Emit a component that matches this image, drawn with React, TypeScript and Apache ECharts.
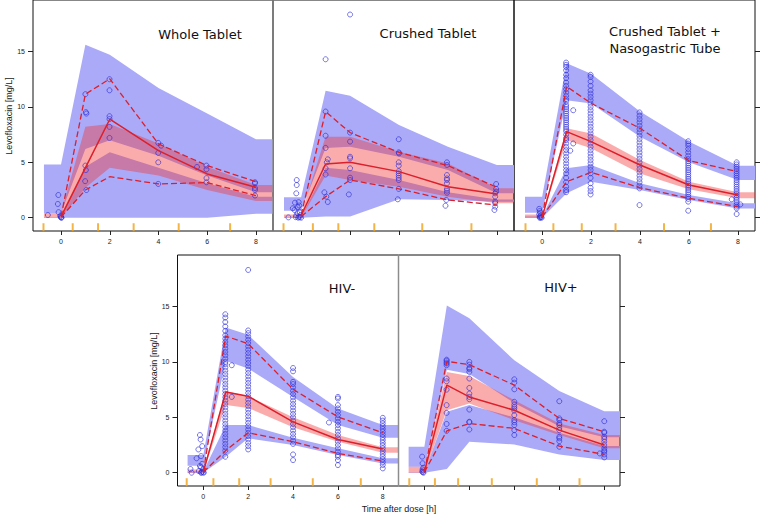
import React, { useEffect, useRef } from "react";
import * as echarts from "echarts";

// ---------------- data ----------------
const BIN_T = [0, 1, 2, 4, 6, 8];
const X_TICKS = [0, 2, 4, 6, 8];
const Y_TICKS = [0, 5, 10, 15];
const X_MIN = -1.15;
const X_MAX = 8.7;
const Y_MIN = -1.2;
const Y_MAX = 19.65;
const BAND_START = -0.7;
const RUG_Y = -0.86;

const TITLES = ["Whole Tablet", "Crushed Tablet", "Crushed Tablet +\nNasogastric Tube", "HIV-", "HIV+"];
const Y_NAME = "Levofloxacin [mg/L]";
const X_NAME = "Time after dose [h]";

// bin boundaries (orange rug)
const WT_BINS = [-0.72, 0.48, 1.52, 2.98, 4.83, 6.94];
const CT_BINS = [-0.72, 0.48, 1.52, 2.99, 4.95, 6.96];
const NG_BINS = [-0.68, 0.46, 1.62, 3.0, 4.98, 6.9];
const HN_BINS = [-0.74, 0.45, 1.6, 3.0, 4.88, 7.02];
const HP_BINS = [-0.67, 0.47, 1.5, 3.0, 5.0, 6.9];

// simulated CI bands at BIN_T
const WT_P5_LO = [0, 0, 0, 0, 0, 0.35];
const WT_P5_HI = [0.05, 4.6, 5.9, 4.5, 3.1, 1.9];
const WT_P50_LO = [0, 2.7, 4.5, 3.8, 2.5, 1.5];
const WT_P50_HI = [0.4, 8.2, 8.45, 6.7, 4.6, 2.95];
const WT_P95_LO = [0.4, 6.2, 7.0, 5.6, 3.8, 2.3];
const WT_P95_HI = [4.8, 15.6, 14.7, 11.7, 9.4, 7.08];

const CT_P5_LO = [0, 0.1, 0.1, 1.66, 1.6, 1.45];
const CT_P5_HI = [0.05, 4.5, 4.3, 3.4, 2.3, 1.65];
const CT_P50_LO = [0, 3.8, 3.4, 2.8, 1.9, 1.3];
const CT_P50_HI = [0.3, 7.3, 7.3, 5.96, 4.9, 2.65];
const CT_P95_LO = [0.63, 6.3, 6.4, 5.5, 4.3, 2.2];
const CT_P95_HI = [1.84, 11.45, 11.0, 8.37, 6.4, 4.76];

const NG_P5_LO = [0, 2.2, 3.25, 2.5, 1.6, 0.84];
const NG_P5_HI = [0.1, 4.46, 4.76, 3.1, 2.05, 1.3];
const NG_P50_LO = [0, 7.0, 6.27, 4.0, 2.56, 1.75];
const NG_P50_HI = [0.3, 8.07, 7.6, 5.2, 3.25, 2.29];
const NG_P95_LO = [0.45, 10.6, 10.3, 7.3, 5.0, 3.4];
const NG_P95_HI = [1.9, 13.95, 13.0, 9.58, 6.87, 4.7];

const HN_P5_LO = [0, 1.44, 3.1, 2.5, 1.6, 0.84];
const HN_P5_HI = [0.1, 4.3, 4.3, 3.15, 2.2, 1.3];
const HN_P50_LO = [0, 6.1, 5.85, 4.1, 2.8, 1.8];
const HN_P50_HI = [0.3, 7.38, 6.9, 5.0, 3.4, 2.3];
const HN_P95_LO = [0.63, 10.1, 9.4, 6.84, 4.3, 3.15];
const HN_P95_HI = [1.6, 13.1, 12.45, 8.64, 5.8, 4.3];

const HP_P5_LO = [0, 0.33, 2.8, 2.55, 1.65, 1.14];
const HP_P5_HI = [0.05, 5.5, 6.1, 5.0, 3.6, 2.4];
const HP_P50_LO = [0, 5.64, 6.24, 4.74, 3.4, 2.2];
const HP_P50_HI = [0.54, 9.1, 8.73, 6.54, 4.44, 3.4];
const HP_P95_LO = [0.54, 9.3, 8.9, 6.3, 4.2, 3.2];
const HP_P95_HI = [2.34, 15.1, 13.95, 10.14, 7.38, 5.55];

// observed percentiles at BIN_T
const WT_O5 = [0.05, 2.5, 3.7, 3.05, 3.17, 1.99];
const WT_O50 = [0.1, 4.5, 8.89, 6.05, 3.95, 2.75];
const WT_O95 = [0.1, 11.15, 12.53, 6.66, 4.7, 3.25];
const CT_O5 = [0.1, 1.9, 3.4, 2.6, 1.6, 1.14];
const CT_O50 = [0.2, 4.85, 5.0, 4.16, 2.8, 2.14];
const CT_O95 = [0.24, 9.58, 7.68, 5.9, 4.7, 2.74];
const NG_O5 = [0.05, 3.25, 4.1, 2.7, 1.75, 1.0];
const NG_O50 = [0.05, 7.77, 6.87, 4.76, 2.95, 2.05];
const NG_O95 = [0.1, 11.84, 10.33, 8.07, 5.15, 4.16];
const HN_O5 = [0.05, 2.0, 3.6, 2.8, 1.74, 1.05];
const HN_O50 = [0.05, 7.29, 6.9, 4.59, 3.0, 2.13];
const HN_O95 = [0.1, 12.33, 11.64, 7.53, 5.04, 3.6];
const HP_O5 = [0.05, 3.78, 4.44, 4.0, 2.4, 1.65];
const HP_O50 = [0.05, 7.9, 6.84, 5.64, 3.84, 2.5];
const HP_O95 = [0.1, 10.05, 9.75, 7.9, 4.9, 3.7];

// observations [time, concentration]
const WT_OBS = [
  [-0.54, 0.24], [-0.11, 2.05], [-0.13, 1.24], [-0.1, 0.5], [-0.03, 0.12], [0, 0.05], [0.02, 0], [-0.02, 0.2], [0.01, 0.02],
  [1.0, 11.15], [1.02, 9.53], [1.04, 9.4], [1.0, 4.7], [1.02, 4.3], [0.99, 3.3], [1.04, 2.5],
  [1.99, 12.5], [1.99, 11.5], [1.99, 9.16], [1.99, 8.9], [1.99, 8.2], [1.99, 7.2],
  [3.99, 6.75], [4.11, 6.5], [3.99, 5.85], [3.99, 5.0], [3.99, 3.05],
  [5.58, 4.58],
  [5.97, 4.7], [5.97, 4.37], [5.97, 3.57], [5.97, 3.2],
  [7.96, 3.2], [7.96, 3.1], [7.96, 2.68], [7.96, 2.5], [7.96, 2.0],
];
const CT_OBS = [
  [-0.52, 0.03], [-0.18, 3.4], [-0.18, 2.95], [-0.2, 2.2], [-0.25, 1.36], [-0.34, 0.85], [-0.27, 0.7], [-0.14, 0.95],
  [-0.08, 1.1], [-0.1, 1.4], [-0.05, 0.5], [-0.15, 0.4], [-0.2, 0.2], [-0.1, 0.1], [-0.05, 0.05], [0, 0.0], [-0.12, 0.0],
  [-0.22, 0.05], [-0.02, 0.25],
  [1.0, 14.3], [1.0, 9.58], [1.0, 7.4], [1.0, 6.3], [1.09, 5.27], [1.05, 5.0], [1.0, 4.46], [1.0, 3.9], [0.95, 2.29], [1.09, 1.42], [1.03, 1.9],
  [2.0, 18.34], [2.0, 7.68], [2.0, 6.87], [2.0, 5.5], [2.0, 5.36], [2.0, 4.46], [2.0, 3.61], [2.0, 3.4], [1.95, 2.1],
  [3.99, 7.08], [3.99, 5.9], [4.0, 5.8], [3.99, 5.0], [3.99, 4.7], [3.99, 4.2], [3.99, 4.0], [3.99, 3.8], [3.99, 3.6], [3.99, 3.4], [3.99, 2.6], [3.95, 1.66],
  [5.96, 5.0], [5.96, 4.76], [5.96, 3.85], [5.96, 3.55], [5.96, 3.4], [5.96, 3.1], [5.96, 2.6], [5.96, 2.44], [5.96, 2.25], [5.93, 1.6], [5.9, 1.08],
  [7.97, 3.04], [7.97, 2.6], [7.97, 2.35], [7.93, 2.2], [7.93, 1.9], [7.93, 1.45], [7.93, 1.3], [7.9, 0.7], [7.93, 1.0],
];

const NG_PRE = [[-0.12, 0.8], [-0.1, 0.6], [-0.08, 0.45], [-0.12, 0.3], [-0.06, 0.2], [-0.1, 0.12], [-0.04, 0.05], [-0.08, 0.02], [-0.02, 0], [-0.1, 0]];
const NG_COLS: [number, number[]][] = [
  [0.98, [14.0, 13.8, 13.6, 13.3, 12.9, 12.6, 12.2, 11.9, 11.6, 11.3, 11.0, 10.7, 10.5, 10.2, 10.0, 9.8, 9.6, 9.4, 9.2, 9.0, 8.8, 8.6, 8.4, 8.2, 8.0, 7.8, 7.5, 7.2, 7.0, 6.7, 6.4, 6.1, 5.8, 5.5, 5.2, 4.9, 4.6, 4.3, 4.0, 3.6, 3.2, 2.8, 2.5, 2.3]],
  [1.98, [12.9, 12.7, 12.3, 11.9, 11.5, 11.2, 10.9, 10.6, 10.3, 10.0, 9.7, 9.4, 9.1, 8.8, 8.5, 8.2, 7.9, 7.6, 7.3, 7.0, 6.7, 6.4, 6.1, 5.8, 5.5, 5.2, 4.9, 4.6, 4.3, 4.0, 3.6, 3.1, 2.7, 2.4, 2.1]],
  [3.98, [9.5, 9.2, 8.9, 8.6, 8.3, 8.0, 7.7, 7.4, 7.1, 6.8, 6.5, 6.2, 5.9, 5.6, 5.3, 5.0, 4.7, 4.4, 4.1, 3.8, 3.5, 3.2, 2.9, 2.65, 1.14]],
  [5.97, [6.9, 6.7, 6.5, 6.2, 5.9, 5.6, 5.3, 5.1, 4.9, 4.7, 4.5, 4.3, 4.1, 3.9, 3.7, 3.5, 3.3, 3.1, 2.9, 2.7, 2.5, 2.3, 2.1, 1.9, 1.7, 1.45, 0.63]],
  [7.95, [5.0, 4.8, 4.6, 4.4, 4.2, 4.0, 3.8, 3.6, 3.4, 3.2, 3.0, 2.8, 2.6, 2.4, 2.2, 2.0, 1.8, 1.6, 1.4, 1.2, 1.0, 0.84, 0.33]],
];
const NG_EXTRA = [[1.27, 9.7], [1.27, 6.7], [1.15, 6.05], [7.75, 1.66], [8.1, 1.2]];

const HN_PRE = [[-0.57, 0.33], [-0.52, 0.0], [-0.3, 1.3], [-0.22, 2.1], [-0.15, 3.4], [-0.12, 3.0], [-0.1, 1.5], [-0.05, 0.8], [-0.1, 0.5], [0, 0.3], [-0.05, 0.1], [0, 0.05], [-0.1, 0], [0.02, 0], [-0.15, 0.6], [-0.2, 0.15], [-0.08, 0.02], [-0.05, 2.4]];
const HN_COLS: [number, number[]][] = [
  [0.98, [14.3, 14.0, 13.6, 13.2, 12.8, 12.4, 12.1, 11.8, 11.5, 11.2, 10.9, 10.6, 10.3, 10.0, 9.8, 9.5, 9.2, 8.9, 8.6, 8.3, 8.0, 7.7, 7.4, 7.1, 6.8, 6.5, 6.2, 5.9, 5.6, 5.3, 5.0, 4.7, 4.4, 4.1, 3.8, 3.5, 3.2, 2.9, 2.6, 2.3, 2.0, 1.44]],
  [2.0, [18.3, 12.84, 12.6, 12.3, 12.0, 11.7, 11.4, 11.1, 10.8, 10.5, 10.2, 9.9, 9.6, 9.3, 9.0, 8.7, 8.4, 8.1, 7.8, 7.5, 7.2, 6.9, 6.6, 6.3, 6.0, 5.7, 5.4, 5.1, 4.8, 4.5, 4.2, 3.9, 3.6, 3.3, 3.0, 2.7, 2.4, 2.1]],
  [4.0, [9.45, 9.15, 8.2, 8.0, 7.7, 7.4, 7.1, 6.8, 6.5, 6.2, 5.9, 5.6, 5.3, 5.0, 4.7, 4.4, 4.1, 3.8, 3.5, 3.2, 2.9, 2.6, 1.65, 1.14]],
  [6.0, [6.84, 6.7, 6.1, 5.8, 5.5, 5.2, 4.9, 4.6, 4.3, 4.0, 3.7, 3.4, 3.1, 2.8, 2.5, 2.2, 1.9, 1.6, 1.44, 1.14, 0.69]],
  [8.0, [4.95, 4.7, 4.45, 4.2, 3.95, 3.7, 3.45, 3.2, 2.95, 2.7, 2.45, 2.2, 1.95, 1.7, 1.45, 1.2, 0.95, 0.7, 0.39]],
];
const HN_EXTRA = [[1.27, 9.7], [1.27, 6.84], [5.6, 4.53]];

const HP_PRE = [[-0.1, 1.45], [-0.08, 0.85], [-0.05, 0.45], [-0.08, 0.3], [-0.05, 0.2], [-0.1, 0.1], [-0.06, 0.05], [-0.04, 0.0]];
const HP_COLS: [number, number[]][] = [
  [0.99, [10.2, 10.1, 9.95, 9.85, 9.7, 8.5, 8.25, 7.5, 6.1, 5.4, 4.4, 3.78]],
  [2.0, [10.0, 9.75, 9.45, 9.35, 9.1, 8.5, 7.65, 7.14, 6.84, 6.63, 5.7, 4.6, 4.55, 3.9]],
  [4.0, [8.43, 8.13, 7.53, 6.4, 6.15, 5.95, 5.8, 5.6, 5.2, 4.74, 4.55, 4.3, 3.84, 3.4]],
  [6.0, [6.45, 4.9, 4.75, 4.45, 4.3, 4.05, 3.84, 3.24, 3.1, 2.85, 2.34]],
  [8.0, [4.65, 3.7, 3.6, 3.24, 3.05, 2.8, 2.5, 2.2, 2.0, 1.9, 1.65, 1.38]],
];
const HP_EXTRA = [[7.8, 1.74]];

// ---------------- styling ----------------
const BLUE = "#aaaaf8";
const PINK = "rgba(243,48,48,0.40)";
const RED = "#dc1f2a";
const PT = "#2b2bd8";
const ORANGE = "#f0a21a";
const TITLE_FONT = "DejaVu Sans, Verdana, sans-serif";
const AXIS_FONT = "Liberation Sans, Arial, sans-serif";

const GRIDS = [
  { left: 33, top: 0, width: 240, height: 231 },
  { left: 273, top: 0, width: 241, height: 231 },
  { left: 514, top: 0, width: 241, height: 231 },
  { left: 177.5, top: 255, width: 221, height: 231 },
  { left: 398.5, top: 255, width: 221.5, height: 231 },
];
const X_LABELS = [true, false, true, true, false];
const Y_MODE = ["left", "none", "right", "left", "right"];

const cols = (pre: number[][], c: [number, number[]][], extra: number[][]) =>
  pre.concat(c.flatMap(([t, vs]) => vs.map((v) => [t, v])), extra);

const PANELS = [
  { rug: WT_BINS, b: [[WT_P5_LO, WT_P5_HI, BLUE], [WT_P95_LO, WT_P95_HI, BLUE], [WT_P50_LO, WT_P50_HI, PINK]], o: [WT_O5, WT_O50, WT_O95], obs: WT_OBS },
  { rug: CT_BINS, b: [[CT_P5_LO, CT_P5_HI, BLUE], [CT_P95_LO, CT_P95_HI, BLUE], [CT_P50_LO, CT_P50_HI, PINK]], o: [CT_O5, CT_O50, CT_O95], obs: CT_OBS },
  { rug: NG_BINS, b: [[NG_P5_LO, NG_P5_HI, BLUE], [NG_P95_LO, NG_P95_HI, BLUE], [NG_P50_LO, NG_P50_HI, PINK]], o: [NG_O5, NG_O50, NG_O95], obs: cols(NG_PRE, NG_COLS, NG_EXTRA) },
  { rug: HN_BINS, b: [[HN_P5_LO, HN_P5_HI, BLUE], [HN_P95_LO, HN_P95_HI, BLUE], [HN_P50_LO, HN_P50_HI, PINK]], o: [HN_O5, HN_O50, HN_O95], obs: cols(HN_PRE, HN_COLS, HN_EXTRA) },
  { rug: HP_BINS, b: [[HP_P5_LO, HP_P5_HI, BLUE], [HP_P95_LO, HP_P95_HI, BLUE], [HP_P50_LO, HP_P50_HI, PINK]], o: [HP_O5, HP_O50, HP_O95], obs: cols(HP_PRE, HP_COLS, HP_EXTRA) },
];

function bandSeries(gi: number, lo: number[], hi: number[], fill: string) {
  const xs = [BAND_START, ...BIN_T, X_MAX];
  const los = [lo[0], ...lo, lo[lo.length - 1]];
  const his = [hi[0], ...hi, hi[hi.length - 1]];
  return {
    type: "custom",
    xAxisIndex: gi,
    yAxisIndex: gi,
    clip: true,
    silent: true,
    data: [[0, 0]],
    renderItem: (_p: any, api: any) => {
      const pts: number[][] = [];
      for (let i = 0; i < xs.length; i++) pts.push(api.coord([xs[i], his[i]]));
      for (let i = xs.length - 1; i >= 0; i--) pts.push(api.coord([xs[i], los[i]]));
      return { type: "polygon", shape: { points: pts }, style: { fill } };
    },
  };
}

function buildOption() {
  const series: any[] = [];
  PANELS.forEach((p, gi) => {
    p.b.forEach(([lo, hi, c]: any) => series.push(bandSeries(gi, lo, hi, c)));
    series.push({
      type: "scatter", xAxisIndex: gi, yAxisIndex: gi, silent: true,
      symbol: "rect", symbolSize: [2, 8],
      itemStyle: { color: ORANGE },
      data: p.rug.map((x) => [x, RUG_Y]),
    });
    p.o.forEach((vals, k) => {
      series.push({
        type: "line", xAxisIndex: gi, yAxisIndex: gi, silent: true,
        symbol: "none",
        lineStyle: { color: RED, width: k === 1 ? 1.5 : 1.3, type: k === 1 ? "solid" : [6, 3] },
        data: BIN_T.map((t, j) => [t, vals[j]]),
      });
    });
    series.push({
      type: "scatter", xAxisIndex: gi, yAxisIndex: gi, silent: true,
      symbol: "circle", symbolSize: 5,
      itemStyle: { color: "rgba(0,0,0,0)", borderColor: PT, borderWidth: 0.8 },
      data: p.obs,
    });
  });

  const grid = GRIDS.map((g) => ({ ...g, show: true, borderColor: "#111", borderWidth: 1, backgroundColor: "transparent", containLabel: false }));

  const xAxis = GRIDS.map((_g, gi) => ({
    type: "value", gridIndex: gi, min: X_MIN, max: X_MAX, position: "bottom",
    axisLine: { show: false, onZero: false }, splitLine: { show: false },
    axisTick: { show: true, length: 4, customValues: X_TICKS, lineStyle: { color: "#222" } },
    axisLabel: { show: X_LABELS[gi], customValues: X_TICKS, fontSize: 7, margin: 7, color: "#222", fontFamily: AXIS_FONT },
  }));

  const yAxis = GRIDS.map((_g, gi) => ({
    type: "value", gridIndex: gi, min: Y_MIN, max: Y_MAX,
    position: Y_MODE[gi] === "right" ? "right" : "left",
    axisLine: { show: false, onZero: false }, splitLine: { show: false },
    axisTick: { show: Y_MODE[gi] !== "none", length: 5, customValues: Y_TICKS, lineStyle: { color: "#222" } },
    axisLabel: { show: Y_MODE[gi] === "left", customValues: Y_TICKS, fontSize: 7, margin: 8, color: "#222", fontFamily: AXIS_FONT },
  }));

  const titlePos = [[200, 34], [428, 33], [665, 40], [342, 288], [561, 287]];
  const graphic: any[] = [
    { type: "line", z: 100, shape: { x1: 273, y1: 0, x2: 273, y2: 231 }, style: { stroke: "#8c8c8c", lineWidth: 1.5 } },
    { type: "line", z: 100, shape: { x1: 398.5, y1: 255, x2: 398.5, y2: 486 }, style: { stroke: "#8c8c8c", lineWidth: 1.5 } },
    ...TITLES.map((t, i) => ({
      type: "text", z: 100, x: titlePos[i][0], y: titlePos[i][1],
      style: { text: t, fontSize: 13, fontFamily: TITLE_FONT, fill: "#111", align: "center", verticalAlign: "middle", lineHeight: 16.7 },
    })),
    { type: "text", z: 100, x: 9, y: 116, rotation: Math.PI / 2, style: { text: Y_NAME, fontSize: 9, fontFamily: AXIS_FONT, fill: "#222", align: "center", verticalAlign: "middle" } },
    { type: "text", z: 100, x: 154, y: 371, rotation: Math.PI / 2, style: { text: Y_NAME, fontSize: 9, fontFamily: AXIS_FONT, fill: "#222", align: "center", verticalAlign: "middle" } },
    { type: "text", z: 100, x: 399, y: 509, style: { text: X_NAME, fontSize: 9, fontFamily: AXIS_FONT, fill: "#222", align: "center", verticalAlign: "middle" } },
  ];

  return { animation: false, backgroundColor: "#fff", grid, xAxis, yAxis, series, graphic };
}

export default function App() {
  const ref = useRef<HTMLDivElement>(null);
  useEffect(() => {
    if (!ref.current) return;
    const chart = echarts.init(ref.current, undefined, { renderer: "svg" });
    chart.setOption(buildOption() as any);
    return () => chart.dispose();
  }, []);
  return <div ref={ref} style={{ position: "fixed", left: 0, top: 0, width: 760, height: 515 }} />;
}
